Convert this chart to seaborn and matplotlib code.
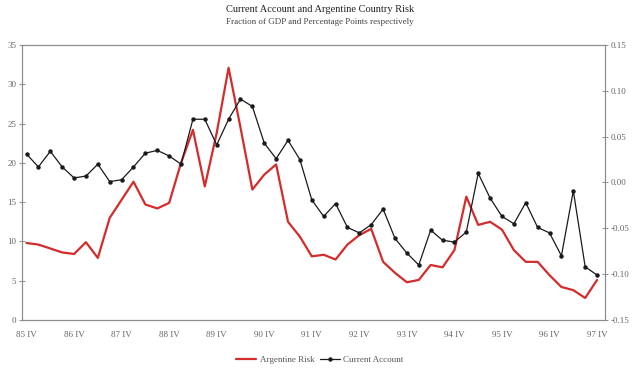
import numpy as np
import pandas as pd
import matplotlib
matplotlib.use("Agg")
import matplotlib.pyplot as plt
import seaborn as sns

# quarterly data, 85 IV .. 97 IV
years = ["85", "86", "87", "88", "89", "90", "91", "92", "93", "94", "95", "96", "97"]
risk = [9.8, 9.6, 9.1, 8.6, 8.4, 9.9, 7.9, 13.0, 15.3, 17.6, 14.7, 14.2, 14.9,
        20.0, 24.2, 17.0, 23.8, 32.1, 24.5, 16.6, 18.5, 19.8, 12.5, 10.6, 8.1,
        8.3, 7.7, 9.6, 10.8, 11.6, 7.4, 6.0, 4.8, 5.1, 7.0, 6.7, 8.9, 15.7,
        12.1, 12.5, 11.5, 8.9, 7.4, 7.4, 5.7, 4.2, 3.8, 2.8, 5.1]
current_account = [0.031, 0.017, 0.034, 0.017, 0.005, 0.007, 0.020, 0.001, 0.003,
                   0.017, 0.032, 0.035, 0.029, 0.020, 0.069, 0.069, 0.041, 0.069,
                   0.091, 0.083, 0.043, 0.026, 0.046, 0.025, -0.019, -0.037, -0.023,
                   -0.049, -0.055, -0.046, -0.029, -0.061, -0.077, -0.090, -0.052,
                   -0.063, -0.065, -0.054, 0.010, -0.017, -0.037, -0.045, -0.022,
                   -0.049, -0.055, -0.080, -0.009, -0.092, -0.101]

df = pd.DataFrame({"q": np.arange(len(risk)), "risk": risk, "ca": current_account})

sns.set_style("white")
plt.rcParams["font.family"] = ["Liberation Serif", "DejaVu Serif"]

fig = plt.figure(figsize=(6.4, 3.71), dpi=100)
ax = fig.add_axes([0.034, 0.1375, 0.911, 0.7412])
ax2 = ax.twinx()

sns.lineplot(data=df, x="q", y="risk", ax=ax, color="#d42b2b", lw=1.6, label="Argentine Risk", legend=False)
sns.lineplot(data=df, x="q", y="ca", ax=ax2, color="#1a1a1a", lw=0.9, marker="o",
             markersize=3.2, markeredgewidth=0, label="Current Account", legend=False)

ax.set_xlim(-0.4, 48.65)
ax.set_ylim(0, 35)
ax2.set_ylim(-0.15, 0.15)
ax.set_yticks(range(0, 36, 5))
ax2.set_yticks(np.arange(-0.15, 0.151, 0.05))
ax2.set_yticklabels([f"{v:.2f}" for v in np.arange(-0.15, 0.151, 0.05)])
ax.set_xticks(np.arange(0, 49, 4))
ax.set_xticks(np.arange(0, 49), minor=True)
ax.set_xticklabels([y + " IV" for y in years])
ax.set_xlabel("")
ax.set_ylabel("")
ax2.set_ylabel("")

for a in (ax, ax2):
    for s in a.spines.values():
        s.set_color("#8c8c8c")
        s.set_linewidth(0.8)
    a.tick_params(axis="both", which="both", direction="inout", colors="#8c8c8c",
                  labelcolor="#666666", labelsize=6.5, length=4, width=0.7)
ax.tick_params(axis="x", which="minor", length=4)
ax.tick_params(axis="x", pad=6)
ax.tick_params(axis="y", pad=2)
ax2.tick_params(axis="y", pad=2)

fig.text(0.5, 0.975, "Current Account and Argentine Country Risk", ha="center", va="center",
         fontsize=7.5, color="#222222")
fig.text(0.5, 0.94, "Fraction of GDP and Percentage Points respectively", ha="center",
         va="center", fontsize=6.5, color="#444444")

h1, l1 = ax.get_legend_handles_labels()
h2, l2 = ax2.get_legend_handles_labels()
fig.legend(h1 + h2, l1 + l2, loc="center", bbox_to_anchor=(0.5, 0.03), ncol=2, frameon=False,
           fontsize=6.5, handlelength=2.2, columnspacing=0.6, handletextpad=0.4,
           labelcolor="#555555")

fig.savefig("out.png", dpi=100)
